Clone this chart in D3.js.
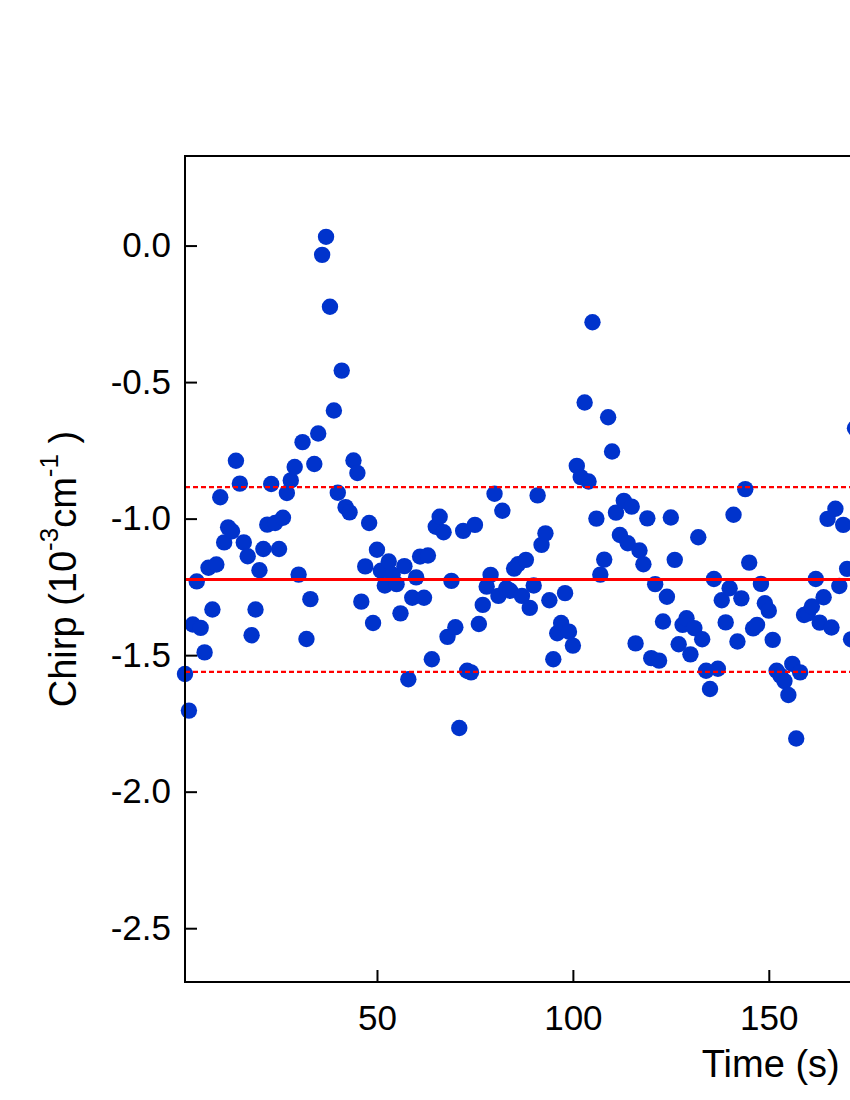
<!DOCTYPE html>
<html>
<head>
<meta charset="utf-8">
<script src="https://cdn.jsdelivr.net/npm/d3@7"></script>
<style>
  html, body { margin: 0; padding: 0; background: #ffffff; }
  svg { display: block; }
  text { font-family: "Liberation Sans", Arial, sans-serif; }
</style>
</head>
<body>
<div id="chart"></div>
<script>
// ---- data ----
const times = [
  1,2,3,4,5,6,7,8,9,10,11,12,13,14,15,16,17,18,19,20,
  21,22,23,24,25,26,27,28,29,30,31,32,33,34,35,36,37,38,39,40,
  41,42,43,44,45,46,47,48,49,50,51,52,53,54,55,56,57,58,59,60,
  61,62,63,64,65,66,67,68,69,70,71,72,73,74,75,76,77,78,79,80,
  81,82,83,84,85,86,87,88,89,90,91,92,93,94,95,96,97,98,99,100,
  101,102,103,104,105,106,107,108,109,110,111,112,113,114,115,116,117,118,119,120,
  121,122,123,124,125,126,127,128,129,130,131,132,133,134,135,136,137,138,139,140,
  141,142,143,144,145,146,147,148,149,150,151,152,153,154,155,156,157,158,159,160,
  161,162,163,164,165,166,167,168,169,170,171,172
];
const chirp = [
  -1.569,-1.703,-1.388,-1.230,-1.400,-1.490,-1.180,-1.333,-1.168,-0.922,
  -1.087,-1.032,-1.046,-0.788,-0.872,-1.087,-1.138,-1.427,-1.333,-1.189,
  -1.111,-1.022,-0.873,-1.016,-1.111,-0.997,-0.906,-0.860,-0.811,-1.205,
  -0.720,-1.441,-1.295,-0.800,-0.688,-0.034,0.032,-0.224,-0.604,-0.905,
  -0.458,-0.958,-0.977,-0.787,-0.833,-1.304,-1.175,-1.016,-1.382,-1.114,
  -1.191,-1.245,-1.157,-1.205,-1.240,-1.347,-1.174,-1.588,-1.290,-1.215,
  -1.139,-1.290,-1.135,-1.515,-1.030,-0.993,-1.050,-1.433,-1.228,-1.398,
  -1.767,-1.045,-1.557,-1.563,-1.023,-1.386,-1.316,-1.249,-1.206,-0.909,
  -1.283,-0.971,-1.255,-1.264,-1.183,-1.167,-1.283,-1.151,-1.327,-1.245,
  -0.915,-1.096,-1.054,-1.299,-1.515,-1.420,-1.382,-1.273,-1.414,-1.465,
  -0.807,-0.848,-0.575,-0.864,-0.281,-1.000,-1.205,-1.150,-0.629,-0.754,
  -0.978,-1.060,-0.935,-1.090,-0.956,-1.457,-1.117,-1.167,-0.999,-1.511,
  -1.240,-1.520,-1.377,-1.286,-0.996,-1.151,-1.460,-1.389,-1.365,-1.497,
  -1.401,-1.068,-1.442,-1.557,-1.624,-1.221,-1.550,-1.299,-1.380,-1.255,
  -0.986,-1.450,-1.292,-0.892,-1.161,-1.402,-1.389,-1.239,-1.310,-1.337,
  -1.444,-1.557,-1.575,-1.595,-1.646,-1.532,-1.805,-1.563,-1.353,-1.347,
  -1.322,-1.221,-1.381,-1.288,-1.001,-1.399,-0.964,-1.247,-1.023,-1.184,
  -1.442,-0.669
];
const meanValue = -1.223;
const bandValues = [-0.885, -1.561];
const xTicks = [50, 100, 150];
const yTicks = [0.0, -0.5, -1.0, -1.5, -2.0, -2.5];
const xDomain = [1, 300];
const yDomain = [-2.697, 0.328];

// ---- layout ----
const W = 850, H = 1100;
const plot = { left: 185, top: 156, bottom: 982, right: 1356.5 };

const svg = d3.select("#chart").append("svg")
  .attr("width", W).attr("height", H)
  .attr("viewBox", `0 0 ${W} ${H}`);
svg.append("rect").attr("width", W).attr("height", H).attr("fill", "#ffffff");

const x = d3.scaleLinear().domain(xDomain).range([plot.left, plot.right]);
const y = d3.scaleLinear().domain(yDomain).range([plot.bottom, plot.top]);

// points
const data = times.map((t, i) => ({ t, v: chirp[i] }));
svg.append("g").selectAll("circle").data(data).join("circle")
  .attr("cx", d => x(d.t))
  .attr("cy", d => y(d.v))
  .attr("r", 8.2)
  .attr("fill", "#0033cc");

// mean and band lines
svg.append("line")
  .attr("x1", plot.left).attr("x2", plot.right)
  .attr("y1", y(meanValue)).attr("y2", y(meanValue))
  .attr("stroke", "#ff0000").attr("stroke-width", 3);
svg.append("g").selectAll("line").data(bandValues).join("line")
  .attr("x1", plot.left).attr("x2", plot.right)
  .attr("y1", d => y(d)).attr("y2", d => y(d))
  .attr("stroke", "#ff0000").attr("stroke-width", 2.2)
  .attr("stroke-dasharray", "5,3");

// frame
svg.append("rect")
  .attr("x", plot.left).attr("y", plot.top)
  .attr("width", plot.right - plot.left).attr("height", plot.bottom - plot.top)
  .attr("fill", "none").attr("stroke", "#000").attr("stroke-width", 2);

// axes
const fmt = d => d.toFixed(1);
const xAxis = d3.axisBottom(x).tickValues(xTicks).tickSize(-12).tickPadding(23).tickFormat(d3.format("d"));
const yAxis = d3.axisLeft(y).tickValues(yTicks).tickSize(-12).tickPadding(14).tickFormat(fmt);

const gx = svg.append("g").attr("transform", `translate(0,${plot.bottom})`).call(xAxis);
const gy = svg.append("g").attr("transform", `translate(${plot.left},0)`).call(yAxis);
[gx, gy].forEach(g => {
  g.select(".domain").remove();
  g.selectAll(".tick line").attr("stroke", "#000").attr("stroke-width", 2);
  g.selectAll(".tick text")
    .attr("fill", "#000")
    .style("font-family", '"Liberation Sans", Arial, sans-serif')
    .style("font-size", "35px");
});

// axis titles
svg.append("text")
  .attr("x", (plot.left + plot.right) / 2)
  .attr("y", 1077)
  .attr("text-anchor", "middle")
  .style("font-size", "38px")
  .attr("fill", "#000")
  .text("Time (s)");

const yt = svg.append("text")
  .attr("transform", `translate(76,${(plot.top + plot.bottom) / 2}) rotate(-90)`)
  .attr("text-anchor", "middle")
  .style("font-size", "38px")
  .attr("fill", "#000");
yt.append("tspan").text("Chirp (10");
yt.append("tspan").attr("dy", -18).style("font-size", "26px").text("-3");
yt.append("tspan").attr("dy", 18).text("cm");
yt.append("tspan").attr("dy", -18).style("font-size", "26px").text("-1");
yt.append("tspan").attr("dy", 18).text(" )");
</script>
</body>
</html>
